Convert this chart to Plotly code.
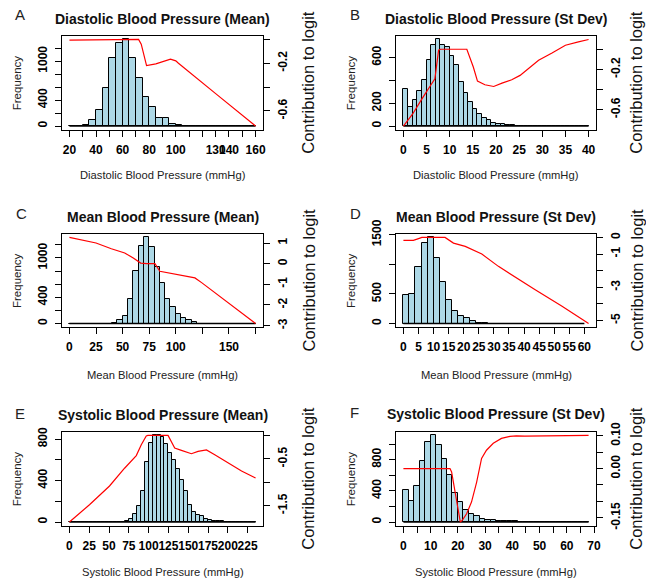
import plotly.graph_objects as go

W, H = 646, 580

# ---------------- data ----------------
# Panel A: Diastolic Blood Pressure (Mean)  -- histogram breaks start 20, width 5
a_bin_start, a_bin_width = 20, 5
a_counts = [0, 0, 20, 98, 242, 592, 1056, 1282, 1334, 1056, 742, 453, 294, 129, 124, 36, 15,
            0, 0, 0, 0, 0, 0, 0, 0, 0, 0, 0]
a_line_x = [20, 40, 60, 70, 72, 74, 76, 78, 85, 90, 96, 100, 102, 130, 160]
a_line_y = [-0.005, -0.005, -0.004, -0.003, 0.0, -0.04, -0.14, -0.22, -0.205, -0.185, -0.165,
            -0.18, -0.2, -0.455, -0.727]

# Panel B: Diastolic Blood Pressure (St Dev) -- breaks start 0, width 1
b_bin_start, b_bin_width = 0, 1
b_counts = [326, 164, 229, 308, 402, 582, 708, 758, 708, 693, 617, 532, 385, 288, 214, 150, 103,
            70, 53, 26, 21, 15, 9, 6, 4, 3, 2, 0, 0, 0, 0, 0, 0, 0, 0, 0, 0, 0, 0, 0]
b_line_x = [0, 2, 4, 5, 6.1, 6.8, 7.6, 8, 13.7, 15.1, 16, 17.6, 19.5, 21.3, 23.4, 25.2, 27,
            29.2, 32.1, 35, 37.8, 40]
b_line_y = [-0.763, -0.643, -0.493, -0.427, -0.343, -0.293, -0.01, 0.0, 0.0, -0.177, -0.317,
            -0.353, -0.37, -0.337, -0.303, -0.26, -0.193, -0.11, -0.037, 0.04, 0.073, 0.097]

# Panel C: Mean Blood Pressure (Mean) -- breaks start 0, width 5
c_bin_start, c_bin_width = 0, 5
c_counts = [0, 0, 0, 0, 0, 0, 0, 0,
            15, 51, 117, 380, 806, 1181, 1313, 1166, 867, 618, 380, 248, 147, 86, 51, 20,
            0, 0, 0, 0, 0, 0, 0, 0, 0, 0, 0]
c_line_x = [0, 25, 39.4, 52, 60, 67, 72.5, 80.4, 85, 93, 105.7, 118, 124.6, 175]
c_line_y = [1.27, 1.0, 0.72, 0.52, 0.27, 0.03, 0.0, 0.0, -0.37, -0.45, -0.56, -0.69, -0.93, -2.9]

# Panel D: Mean Blood Pressure (St Dev) -- breaks start 0, width 2
d_bin_start, d_bin_width = 0, 2
d_counts = [484, 507, 957, 1357, 1455, 1115, 709, 394, 208, 124, 90, 39, 17, 10,
            0, 0, 0, 0, 0, 0, 0, 0, 0, 0, 0, 0, 0, 0, 0, 0]
d_line_x = [0, 3.3, 5.5, 6.1, 13.8, 16.6, 20.5, 26, 31.5, 36, 43.7, 52.6, 61.4]
d_line_y = [-0.18, -0.18, -0.04, 0.0, 0.0, -0.34, -0.54, -1.0, -1.74, -2.24, -3.14, -4.14, -5.18]

# Panel E: Systolic Blood Pressure (Mean) -- breaks start 0, width 5
e_bin_start, e_bin_width = 0, 5
e_counts = [0] * 14 + [7, 29, 81, 159, 299, 582, 764, 835, 835, 819, 754, 666, 598, 510, 406,
                       299, 169, 97, 71, 62, 32, 23, 13, 13, 7] + [0] * 8
e_line_x = [0, 25.3, 50.6, 69.6, 84.4, 90.7, 97, 99, 124.5, 128.7, 132.9, 141.4, 154, 162.4,
            173, 183.5, 200.4, 217.3, 235]
e_line_y = [-1.85, -1.48, -1.08, -0.7, -0.43, -0.2, -0.01, 0.0, 0.0, -0.13, -0.27, -0.32, -0.39,
            -0.34, -0.31, -0.41, -0.59, -0.76, -0.91]

# Panel F: Systolic Blood Pressure (St Dev) -- breaks start 0, width 2
f_bin_start, f_bin_width = 0, 2
f_counts = [414, 265, 465, 777, 1021, 1110, 991, 811, 606, 371, 256, 158, 107, 73, 38, 21, 30,
            13, 10, 8, 8] + [0] * 13
f_line_x = [0, 17.1, 17.7, 18.9, 20.1, 20.9, 21.6, 23.2, 25, 26.9, 28.7, 30.5, 33, 36, 39.1,
            41.5, 44.6, 56.2, 59.2, 68]
f_line_y = [0.0, 0.0, -0.01, -0.066, -0.128, -0.163, -0.158, -0.138, -0.102, -0.041, 0.031,
            0.056, 0.077, 0.092, 0.098, 0.10, 0.099, 0.099, 0.101, 0.101]

# tick values and the labels R kept (blank = label dropped)
a_xticks = list(range(20, 161, 10))
a_xlabels = ["20", "", "40", "", "60", "", "80", "", "100", "", "", "130", "140", "", "160"]
a_yticks = [0, 200, 400, 600, 800, 1000, 1200]
a_ylabels = ["0", "", "400", "", "", "1000", ""]
a_y2ticks = [0.0, -0.2, -0.4, -0.6]
a_y2labels = ["", "-0.2", "", "-0.6"]

b_xticks = list(range(0, 41, 5))
b_xlabels = [str(v) for v in b_xticks]
b_yticks = [0, 200, 400, 600]
b_ylabels = ["0", "200", "", "600"]
b_y2ticks = [0.0, -0.2, -0.4, -0.6]
b_y2labels = ["", "-0.2", "", "-0.6"]

c_xticks = list(range(0, 176, 25))
c_xlabels = ["0", "25", "50", "75", "100", "", "150", ""]
c_yticks = [0, 200, 400, 600, 800, 1000, 1200]
c_ylabels = ["0", "", "400", "", "", "1000", ""]
c_y2ticks = [1, 0, -1, -2, -3]
c_y2labels = ["1", "0", "-1", "-2", "-3"]

d_xticks = list(range(0, 61, 5))
d_xlabels = [str(v) for v in d_xticks]
d_yticks = [0, 500, 1000, 1500]
d_ylabels = ["0", "500", "", "1500"]
d_y2ticks = [0, -1, -2, -3, -4, -5]
d_y2labels = ["0", "-1", "", "-3", "", "-5"]

e_xticks = list(range(0, 226, 25))
e_xlabels = [str(v) for v in e_xticks]
e_yticks = [0, 200, 400, 600, 800]
e_ylabels = ["0", "", "400", "", "800"]
e_y2ticks = [0, -0.5, -1.0, -1.5]
e_y2labels = ["", "-0.5", "", "-1.5"]

f_xticks = list(range(0, 71, 5))
f_xlabels = [str(v) if v % 10 == 0 else "" for v in f_xticks]
f_yticks = [0, 200, 400, 600, 800, 1000]
f_ylabels = ["0", "", "400", "", "800", ""]
f_y2ticks = [0.10, 0.05, 0.0, -0.05, -0.10, -0.15]
f_y2labels = ["0.10", "", "0.00", "", "", "-0.15"]

letters = ["A", "B", "C", "D", "E", "F"]
titles = ["Diastolic Blood Pressure (Mean)", "Diastolic Blood Pressure (St Dev)",
          "Mean Blood Pressure (Mean)", "Mean Blood Pressure (St Dev)",
          "Systolic Blood Pressure (Mean)", "Systolic Blood Pressure (St Dev)"]
xtitles = ["Diastolic Blood Pressure (mmHg)", "Diastolic Blood Pressure (mmHg)",
           "Mean Blood Pressure (mmHg)", "Mean Blood Pressure (mmHg)",
           "Systolic Blood Pressure (mmHg)", "Systolic Blood Pressure (mmHg)"]
ytitle = "Frequency"
y2title = "Contribution to logit"

data = [
    (a_bin_start, a_bin_width, a_counts, a_line_x, a_line_y, a_xticks, a_xlabels, a_yticks, a_ylabels, a_y2ticks, a_y2labels),
    (b_bin_start, b_bin_width, b_counts, b_line_x, b_line_y, b_xticks, b_xlabels, b_yticks, b_ylabels, b_y2ticks, b_y2labels),
    (c_bin_start, c_bin_width, c_counts, c_line_x, c_line_y, c_xticks, c_xlabels, c_yticks, c_ylabels, c_y2ticks, c_y2labels),
    (d_bin_start, d_bin_width, d_counts, d_line_x, d_line_y, d_xticks, d_xlabels, d_yticks, d_ylabels, d_y2ticks, d_y2labels),
    (e_bin_start, e_bin_width, e_counts, e_line_x, e_line_y, e_xticks, e_xlabels, e_yticks, e_ylabels, e_y2ticks, e_y2labels),
    (f_bin_start, f_bin_width, f_counts, f_line_x, f_line_y, f_xticks, f_xlabels, f_yticks, f_ylabels, f_y2ticks, f_y2labels),
]

# ---------------- layout geometry (pixels) ----------------
boxes = [
    (62, 263, 36, 129.5), (396, 596, 36, 129.5),
    (62, 263, 234, 327), (396, 596, 234, 327),
    (62, 263, 432, 525.5), (396, 596, 432, 525.5),
]
letter_pos = [(20, 15), (355, 15), (21, 213), (355, 213), (20, 413), (354, 412)]
title_y = [18.5, 18.5, 217, 217, 415, 414]
xtitle_y = [175, 175, 375, 375, 571.5, 571.5]
y2title_x = [308, 636, 308, 636, 308, 636]

FONT = "Liberation Sans, Arial, sans-serif"
TXT = "#111111"


def px(x):
    return x / W


def py(y):
    return 1 - y / H


def expand(lo, hi, f=0.04):
    d = (hi - lo) * f
    return [lo - d, hi + d]


fig = go.Figure()
layout = dict(template="none", width=W, height=H, margin=dict(l=0, r=0, t=0, b=0, pad=0),
              autosize=False,
              paper_bgcolor="white", plot_bgcolor="white", showlegend=False,
              bargap=0, font=dict(family=FONT, color=TXT))
annotations = []

tickfont = dict(family=FONT, size=12, color="#000000", weight="bold")

for i, (bs, bw, counts, lx, ly, xt, xtt, yt, ytt, y2t, y2tt) in enumerate(data):
    xa = "x" if i == 0 else f"x{i + 1}"
    yl = "y" if i == 0 else f"y{2 * i + 1}"
    yr = f"y{2 * i + 2}"
    xkey = "xaxis" if i == 0 else f"xaxis{i + 1}"
    ylkey = "yaxis" if i == 0 else f"yaxis{2 * i + 1}"
    yrkey = f"yaxis{2 * i + 2}"
    l, r, t, b = boxes[i]

    n = len(counts)
    centers = [bs + bw * (k + 0.5) for k in range(n)]
    hist_end = bs + bw * n

    fig.add_trace(go.Bar(x=centers, y=counts, width=[bw] * n,
                         marker=dict(color="#ADD8E6", line=dict(color="black", width=1)),
                         xaxis=xa, yaxis=yl, hoverinfo="skip"))
    fig.add_trace(go.Scatter(x=[bs, hist_end], y=[0, 0], mode="lines",
                             line=dict(color="black", width=1.5),
                             xaxis=xa, yaxis=yl, hoverinfo="skip"))
    fig.add_trace(go.Scatter(x=lx, y=ly, mode="lines",
                             line=dict(color="red", width=1.2),
                             xaxis=xa, yaxis=yr, hoverinfo="skip"))

    xr = expand(min(bs, min(lx)), max(hist_end, max(lx)))
    common = dict(showgrid=False, zeroline=False, fixedrange=True, automargin=False,
                  ticks="outside", ticklen=6, tickcolor="black", tickwidth=1,
                  tickmode="array", tickfont=tickfont, ticklabelstandoff=3)
    layout[xkey] = dict(domain=[px(l), px(r)], range=xr, anchor=yl,
                        showline=True, mirror=True, linecolor="black", linewidth=1,
                        tickvals=xt, ticktext=xtt, tickangle=0, **common)
    layout[ylkey] = dict(domain=[py(b), py(t)], range=expand(0, max(counts)), anchor=xa,
                         showline=True, mirror=True, linecolor="black", linewidth=1,
                         tickvals=yt, ticktext=ytt, tickangle=-90, **common)
    layout[yrkey] = dict(overlaying=yl, side="right", anchor=xa,
                         range=expand(min(ly), max(ly)), showline=False,
                         tickvals=y2t, ticktext=y2tt, tickangle=-90, **common)

    cx = (l + r) / 2
    cy = (t + b) / 2
    lxp, lyp = letter_pos[i]
    annotations.append(dict(x=px(lxp), y=py(lyp), xref="paper", yref="paper", text=letters[i],
                            showarrow=False, xanchor="center", yanchor="middle",
                            font=dict(family=FONT, size=15, color="#222222")))
    annotations.append(dict(x=px(cx), y=py(title_y[i]), xref="paper", yref="paper",
                            text="<b>" + titles[i] + "</b>", showarrow=False,
                            xanchor="center", yanchor="middle",
                            font=dict(family=FONT, size=14, color="#111111")))
    annotations.append(dict(x=px(cx), y=py(xtitle_y[i]), xref="paper", yref="paper",
                            text=xtitles[i], showarrow=False, xanchor="center", yanchor="middle",
                            font=dict(family=FONT, size=11.2, color="#222222")))
    annotations.append(dict(x=px(l - 45.5), y=py(cy), xref="paper", yref="paper",
                            text=ytitle, textangle=-90, showarrow=False,
                            xanchor="center", yanchor="middle",
                            font=dict(family=FONT, size=11.5, color="#222222")))
    annotations.append(dict(x=px(y2title_x[i]), y=py(cy), xref="paper", yref="paper",
                            text=y2title, textangle=-90, showarrow=False,
                            xanchor="center", yanchor="middle",
                            font=dict(family=FONT, size=16.5, color="#111111")))

layout["annotations"] = annotations
fig.update_layout(**layout)
fig.write_html("out.html")
